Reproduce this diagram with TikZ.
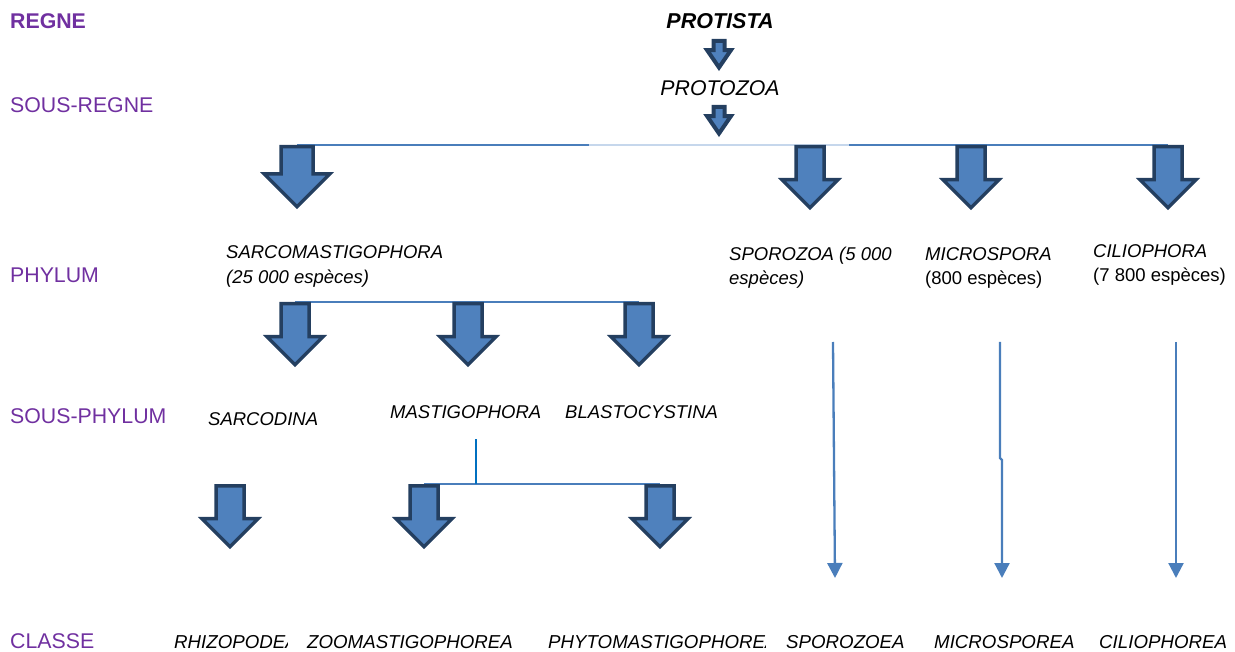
\documentclass[tikz,border=0pt]{standalone}
\usepackage{fontspec}
\setmainfont{Liberation Sans}
\usepackage{tikz}
\usetikzlibrary{arrows.meta, positioning, calc, shapes.arrows, backgrounds}

\definecolor{rangviolet}{HTML}{7030A0}
\definecolor{flechefond}{HTML}{4F81BD}
\definecolor{flechebord}{HTML}{243F60}
\definecolor{traitbleu}{HTML}{4A7EBB}
\definecolor{traitclair}{HTML}{C6D7EC}
\definecolor{traitvif}{HTML}{0070C0}

\tikzset{
  rang/.style={anchor=base west, inner sep=0pt, text=rangviolet, font=\fontsize{21.3}{25}\selectfont},
  taxon/.style={anchor=base west, inner sep=0pt, font=\fontsize{18.5}{22}\selectfont\itshape},
  effectif/.style={anchor=base west, inner sep=0pt, font=\fontsize{18.5}{22}\selectfont},
  classe/.style={taxon, font=\fontsize{18.7}{22}\selectfont\itshape},
  % block arrows (pointing down)
  fleche/.style={single arrow, draw=flechebord, fill=flechefond, line width=3.5pt,
    rotate=-90, anchor=tail, inner sep=0pt, text depth=0pt,
    text height=24.5pt, single arrow head extend=14pt, minimum height=61pt},
  grossefleche/.style={fleche, text height=28.5pt, single arrow head extend=16.75pt, minimum height=60pt},
  petitefleche/.style={fleche, line width=4pt, text height=7pt, single arrow head extend=6.5pt,
    minimum height=26.5pt, single arrow tip angle=69},
  trait/.style={draw=traitbleu, line width=1.5pt},
  traitpale/.style={draw=traitclair, line width=1.2pt},
  filet/.style={draw=traitbleu, line width=2.3pt, -{Triangle[width=15pt,length=15pt]}}
}

\begin{document}
\begin{tikzpicture}[x=1pt, y=-1pt]
  \useasboundingbox (0,0) rectangle (1235,652);

  % Rank labels
  \node[rang, font=\fontsize{21.3}{25}\selectfont\bfseries] (regne) at (10,29) {REGNE};
  \foreach \y/\nom/\id in {113/SOUS-REGNE/sousregne, 283/PHYLUM/phylum,
                           424/SOUS-PHYLUM/sousphylum, 648/CLASSE/classe}
    \node[rang] (\id) at (10,\y) {\nom};

  % Kingdom and sub-kingdom
  \node[anchor=base, inner sep=0pt, font=\fontsize{21.5}{24}\selectfont\bfseries\itshape] (protista) at (720,29) {PROTISTA};
  \node[anchor=base, inner sep=0pt, font=\fontsize{21.3}{24}\selectfont\itshape] (protozoa) at (720,96) {PROTOZOA};
  \node[petitefleche] (ap1) at (719,39) {};
  \node[petitefleche] (ap2) at (719,105) {};

  % Phyla
  \node[grossefleche] (asarco) at (297,145) {};
  \foreach \x/\id in {810/asporo, 971/amicro, 1168/acilio}
    \node[fleche] (\id) at (\x,145) {};

  \node[taxon] (sarco) at (226,259) {SARCOMASTIGOPHORA};
  \node[taxon] (sarcon) at ($(sarco.base west)+(0,25)$) {(25 000 espèces)};
  \node[taxon] (sporo) at (729,261) {SPOROZOA (5 000};
  \node[taxon] (sporon) at ($(sporo.base west)+(0,24)$) {espèces)};
  \node[taxon] (micro) at (925,261) {MICROSPORA};
  \node[effectif] (micron) at ($(micro.base west)+(0,24)$) {(800 espèces)};
  \node[taxon] (cilio) at (1093,258) {CILIOPHORA};
  \node[effectif] (cilion) at ($(cilio.base west)+(0,24)$) {(7 800 espèces)};

  % Sub-phyla
  \foreach \x/\id in {295/asarcod, 468/amastig, 639/ablasto}
    \node[fleche] (\id) at (\x,302) {};
  \node[taxon] (sarcod) at (208,425) {SARCODINA};
  \node[taxon] (mastig) at (390,418) {MASTIGOPHORA};
  \node[taxon] (blasto) at (565,418) {BLASTOCYSTINA};

  % Classes
  \foreach \x/\id in {230/arhizo, 424/azoo, 660/aphyto}
    \node[fleche] (\id) at (\x,484) {};
  \begin{scope}
    \clip (170,620) rectangle (287,652);
    \node[classe] (rhizo) at (174,648) {RHIZOPODEA};
  \end{scope}
  \begin{scope}
    \clip (540,620) rectangle (765,652);
    \node[classe] (phyto) at (548,648) {PHYTOMASTIGOPHOREA};
  \end{scope}
  \foreach \x/\nom/\id in {307/ZOOMASTIGOPHOREA/zoo, 786/SPOROZOEA/sporoea,
                           934/MICROSPOREA/microea, 1099/CILIOPHOREA/ciliea}
    \node[classe] (\id) at (\x,648) {\nom};

  % Connecting lines, behind the block arrows
  \coordinate (g1) at (589,145);
  \coordinate (g2) at (849,145);
  \coordinate (mtop) at (476,439);
  \begin{scope}[on background layer]
    \draw[trait] (asarco.tail) -- (g1);
    \draw[traitpale] (g1) -- (g2);
    \draw[trait] (g2) -- (acilio.tail);
    \draw[trait] (asarcod.tail) -- (ablasto.tail);
    \draw[trait] (azoo.tail) -- (aphyto.tail);
    \draw[draw=traitvif, line width=1.5pt] (mtop) -- (mtop |- azoo.tail);
  \end{scope}

  % Thin arrows down to the classes
  \coordinate (t1) at (833,342);  \coordinate (t1e) at (835,578);
  \coordinate (t2) at (1000,342); \coordinate (t2m) at (1000,458);
  \coordinate (t2n) at (1002,460); \coordinate (t2e) at (1002,578);
  \coordinate (t3) at (1176,342); \coordinate (t3e) at (1176,578);
  \draw[filet] (t1) -- (t1e);
  \draw[filet] (t2) -- (t2m) -- (t2n) -- (t2e);
  \draw[filet] (t3) -- (t3e);
\end{tikzpicture}
\end{document}
